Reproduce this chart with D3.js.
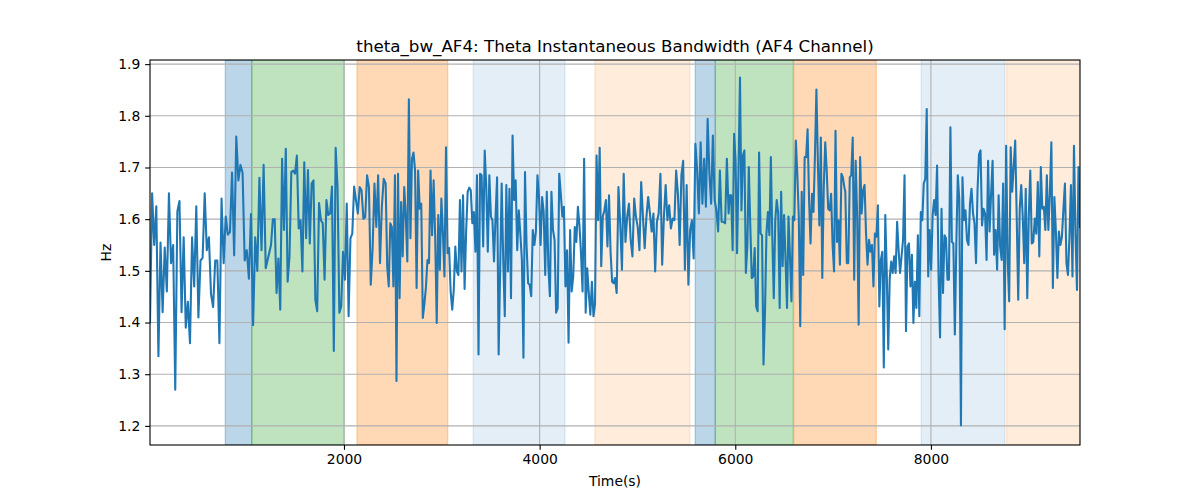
<!DOCTYPE html>
<html>
<head>
<meta charset="utf-8">
<script src="https://cdn.jsdelivr.net/npm/d3@7"></script>
<style>
  html, body { margin: 0; padding: 0; background: #ffffff; }
  svg { display: block; font-family: "DejaVu Sans", sans-serif; }
</style>
</head>
<body>
<svg id="chart" width="1200" height="500"></svg>
<script>
// ---------------- data ----------------
const title = "theta_bw_AF4: Theta Instantaneous Bandwidth (AF4 Channel)";
const xLabel = "Time(s)";
const yLabel = "Hz";
const xTicks = [2000, 4000, 6000, 8000];
const yTicks = [1.2, 1.3, 1.4, 1.5, 1.6, 1.7, 1.8, 1.9];
const xDomain = [17, 9524];
const yDomain = [1.163, 1.908];

// time range covered by each group of samples
const segStarts = [17, 1254, 2426, 3612, 4770, 5943, 7125, 8307];
const segEnds   = [1200, 2406, 3581, 4757, 5932, 7115, 8290, 9524];

const seg1 = [1.40, 1.65, 1.55, 1.625, 1.335, 1.555, 1.42, 1.545, 1.46, 1.65, 1.515, 1.55, 1.27, 1.615, 1.635, 1.42, 1.565, 1.39, 1.44, 1.36, 1.565, 1.47, 1.625, 1.41, 1.52, 1.525, 1.65, 1.54, 1.565, 1.455, 1.43, 1.52, 1.52, 1.36, 1.64, 1.515, 1.605, 1.57, 1.575, 1.69, 1.53, 1.76, 1.675, 1.705, 1.69, 1.52, 1.54, 1.485, 1.61, 1.395, 1.565, 1.50, 1.68, 1.54, 1.705, 1.505];
const seg2 = [1.55, 1.60, 1.60, 1.457, 1.524, 1.425, 1.717, 1.579, 1.736, 1.479, 1.528, 1.691, 1.694, 1.688, 1.723, 1.582, 1.598, 1.499, 1.71, 1.563, 1.695, 1.553, 1.669, 1.675, 1.444, 1.422, 1.631, 1.598, 1.592, 1.483, 1.637, 1.608, 1.611, 1.663, 1.345, 1.738, 1.662, 1.419, 1.431, 1.537, 1.483, 1.63, 1.412, 1.563, 1.572, 1.663, 1.637, 1.611, 1.662, 1.656, 1.601, 1.604, 1.685, 1.662, 1.473, 1.544, 1.669, 1.585, 1.685, 1.515, 1.624, 1.678];
const seg3 = [1.669, 1.509, 1.47, 1.592, 1.585, 1.47, 1.685, 1.287, 1.688, 1.447, 1.633, 1.528, 1.662, 1.605, 1.518, 1.832, 1.563, 1.717, 1.729, 1.694, 1.467, 1.694, 1.62, 1.63, 1.409, 1.435, 1.467, 1.521, 1.515, 1.694, 1.569, 1.675, 1.566, 1.399, 1.608, 1.502, 1.64, 1.572, 1.489, 1.739, 1.534, 1.544, 1.46, 1.425, 1.463, 1.547, 1.499, 1.492, 1.637, 1.499, 1.646, 1.465, 1.576, 1.653, 1.661, 1.656, 1.592, 1.614, 1.537, 1.685, 1.338, 1.688, 1.685, 1.547, 1.733, 1.662, 1.537, 1.685, 1.605, 1.598, 1.518, 1.605, 1.681, 1.338];
const seg4 = [1.669, 1.521, 1.412, 1.666, 1.499, 1.659, 1.447, 1.762, 1.637, 1.675, 1.54, 1.617, 1.572, 1.521, 1.332, 1.691, 1.55, 1.476, 1.473, 1.451, 1.579, 1.55, 1.576, 1.685, 1.643, 1.55, 1.643, 1.614, 1.492, 1.653, 1.509, 1.451, 1.653, 1.579, 1.56, 1.419, 1.428, 1.688, 1.649, 1.605, 1.624, 1.47, 1.54, 1.361, 1.579, 1.46, 1.489, 1.585, 1.556, 1.624, 1.588, 1.534, 1.46, 1.717, 1.419, 1.505, 1.457, 1.415, 1.479, 1.412, 1.435, 1.723, 1.598, 1.738, 1.509, 1.605, 1.617, 1.637, 1.547, 1.646, 1.537, 1.479, 1.476];
const seg5 = [1.486, 1.457, 1.662, 1.592, 1.502, 1.688, 1.556, 1.605, 1.63, 1.56, 1.528, 1.64, 1.605, 1.585, 1.54, 1.672, 1.605, 1.544, 1.605, 1.643, 1.611, 1.576, 1.611, 1.499, 1.595, 1.611, 1.688, 1.512, 1.605, 1.666, 1.598, 1.627, 1.582, 1.601, 1.598, 1.694, 1.649, 1.55, 1.685, 1.713, 1.502, 1.666, 1.473, 1.579, 1.598, 1.524, 1.746, 1.694, 1.611, 1.749, 1.63, 1.717, 1.624, 1.794, 1.688, 1.63, 1.762, 1.637, 1.617, 1.576, 1.694, 1.595, 1.595, 1.592, 1.717, 1.611];
const seg6 = [1.646, 1.646, 1.54, 1.765, 1.713, 1.534, 1.694, 1.874, 1.617, 1.723, 1.733, 1.496, 1.547, 1.701, 1.588, 1.486, 1.489, 1.544, 1.431, 1.422, 1.729, 1.572, 1.569, 1.319, 1.419, 1.572, 1.614, 1.569, 1.72, 1.563, 1.447, 1.598, 1.637, 1.611, 1.428, 1.653, 1.509, 1.608, 1.521, 1.428, 1.605, 1.528, 1.441, 1.605, 1.598, 1.752, 1.688, 1.605, 1.393, 1.653, 1.492, 1.72, 1.72, 1.774, 1.637, 1.553, 1.649, 1.614, 1.723, 1.851, 1.71, 1.588, 1.758, 1.486, 1.662, 1.749, 1.694, 1.62, 1.617, 1.649, 1.55, 1.499, 1.771, 1.556, 1.598, 1.512, 1.688, 1.681, 1.662];
const seg7 = [1.653, 1.515, 1.515, 1.681, 1.685, 1.758, 1.483, 1.713, 1.605, 1.396, 1.72, 1.611, 1.656, 1.666, 1.572, 1.512, 1.56, 1.537, 1.55, 1.47, 1.572, 1.566, 1.627, 1.431, 1.521, 1.537, 1.313, 1.608, 1.496, 1.348, 1.486, 1.518, 1.496, 1.528, 1.496, 1.595, 1.54, 1.496, 1.528, 1.56, 1.685, 1.383, 1.547, 1.553, 1.47, 1.531, 1.399, 1.479, 1.428, 1.569, 1.412, 1.614, 1.598, 1.669, 1.678, 1.813, 1.489, 1.579, 1.502, 1.608, 1.637, 1.608, 1.704, 1.489, 1.371, 1.62, 1.457, 1.569, 1.563, 1.483, 1.483, 1.778, 1.556, 1.553, 1.377, 1.553, 1.685, 1.637];
const seg8 = [1.201, 1.681, 1.598, 1.617, 1.56, 1.55, 1.63, 1.659, 1.611, 1.592, 1.515, 1.656, 1.726, 1.733, 1.588, 1.62, 1.611, 1.521, 1.713, 1.576, 1.649, 1.713, 1.531, 1.579, 1.502, 1.646, 1.547, 1.521, 1.669, 1.387, 1.742, 1.521, 1.441, 1.739, 1.653, 1.701, 1.752, 1.605, 1.444, 1.62, 1.666, 1.605, 1.515, 1.659, 1.447, 1.605, 1.694, 1.553, 1.556, 1.601, 1.572, 1.672, 1.528, 1.701, 1.62, 1.624, 1.579, 1.685, 1.579, 1.649, 1.749, 1.467, 1.643, 1.576, 1.486, 1.576, 1.55, 1.566, 1.62, 1.669, 1.515, 1.492, 1.566, 1.666, 1.489, 1.742, 1.572, 1.463, 1.701, 1.585];

// shaded intervals
const spanStarts = [787, 1057, 2133, 3322, 4565, 5591, 5796, 6597, 7901, 8774];
const spanEnds   = [1057, 2003, 3060, 4259, 5536, 5796, 6593, 7442, 8757, 9524];
const spanKinds  = ["blue", "green", "orange", "paleBlue", "paleOrange", "blue", "green", "orange", "paleBlue", "paleOrange"];

// ---------------- styles ----------------
const spanStyle = {
  blue:       { color: "#1f77b4", alpha: 0.3 },
  green:      { color: "#2ca02c", alpha: 0.3 },
  orange:     { color: "#ff7f0e", alpha: 0.3 },
  paleBlue:   { color: "#1f77b4", alpha: 0.12 },
  paleOrange: { color: "#ff7f0e", alpha: 0.15 }
};

const W = 1200, H = 500;
const margin = { left: 150, right: 120, top: 60, bottom: 55 };
const x0 = margin.left, x1 = W - margin.right, y0 = margin.top, y1 = H - margin.bottom;

const svg = d3.select("#chart");
const x = d3.scaleLinear().domain(xDomain).range([x0, x1]);
const y = d3.scaleLinear().domain(yDomain).range([y1, y0]);

// build series
const segs = [seg1, seg2, seg3, seg4, seg5, seg6, seg7, seg8];
const points = [];
segs.forEach((vals, k) => {
  const ts = d3.scaleLinear().domain([0, vals.length - 1]).range([segStarts[k], segEnds[k]]);
  vals.forEach((v, i) => points.push({ t: ts(i), v }));
});

svg.append("defs").append("clipPath").attr("id", "clip")
  .append("rect").attr("x", x0).attr("y", y0).attr("width", x1 - x0).attr("height", y1 - y0);

const plot = svg.append("g").attr("clip-path", "url(#clip)");

// spans
const spans = spanStarts.map((s, i) => ({ s, e: spanEnds[i], kind: spanKinds[i] }));
plot.selectAll("rect.span").data(spans).join("rect")
  .attr("class", "span")
  .attr("x", d => x(d.s))
  .attr("width", d => x(d.e) - x(d.s))
  .attr("y", y0)
  .attr("height", y1 - y0)
  .attr("fill", d => spanStyle[d.kind].color)
  .attr("fill-opacity", d => spanStyle[d.kind].alpha)
  .attr("stroke", d => spanStyle[d.kind].color)
  .attr("stroke-opacity", d => spanStyle[d.kind].alpha)
  .attr("stroke-width", 1.4);

// grid
const gridColor = "#b0b0b0";
plot.selectAll("line.gx").data(xTicks).join("line")
  .attr("x1", d => x(d)).attr("x2", d => x(d))
  .attr("y1", y0).attr("y2", y1)
  .attr("stroke", gridColor).attr("stroke-width", 1.1);
plot.selectAll("line.gy").data(yTicks).join("line")
  .attr("x1", x0).attr("x2", x1)
  .attr("y1", d => y(d)).attr("y2", d => y(d))
  .attr("stroke", gridColor).attr("stroke-width", 1.1);

// line
const line = d3.line().x(d => x(d.t)).y(d => y(d.v));
plot.append("path").datum(points)
  .attr("d", line)
  .attr("fill", "none")
  .attr("stroke", "#1f77b4")
  .attr("stroke-width", 2.08)
  .attr("stroke-linejoin", "round")
  .attr("stroke-linecap", "square");

// axes
const fontSize = 13.9;
const xAxis = d3.axisBottom(x).tickValues(xTicks).tickFormat(d3.format("d")).tickSize(4.86).tickPadding(4.2);
const yAxis = d3.axisLeft(y).tickValues(yTicks).tickFormat(d3.format(".1f")).tickSize(4.86).tickPadding(4.9);

const gx = svg.append("g").attr("transform", `translate(0,${y1})`).call(xAxis);
const gy = svg.append("g").attr("transform", `translate(${x0},0)`).call(yAxis);
[gx, gy].forEach(g => {
  g.select(".domain").remove();
  g.selectAll(".tick line").attr("stroke", "#000").attr("stroke-width", 1.1);
  g.selectAll(".tick text").attr("fill", "#000")
    .style("font-family", "'DejaVu Sans', sans-serif").style("font-size", fontSize + "px");
});

// spines
svg.append("rect")
  .attr("x", x0).attr("y", y0).attr("width", x1 - x0).attr("height", y1 - y0)
  .attr("fill", "none").attr("stroke", "#000").attr("stroke-width", 1.1);

// labels
svg.append("text")
  .attr("x", (x0 + x1) / 2).attr("y", 51.7)
  .attr("text-anchor", "middle")
  .style("font-size", "16.7px").attr("fill", "#000")
  .text(title);

svg.append("text")
  .attr("x", (x0 + x1) / 2).attr("y", 486)
  .attr("text-anchor", "middle")
  .style("font-size", fontSize + "px").attr("fill", "#000")
  .text(xLabel);

svg.append("text")
  .attr("transform", `translate(110.5,${(y0 + y1) / 2}) rotate(-90)`)
  .attr("text-anchor", "middle")
  .style("font-size", fontSize + "px").attr("fill", "#000")
  .text(yLabel);
</script>
</body>
</html>
